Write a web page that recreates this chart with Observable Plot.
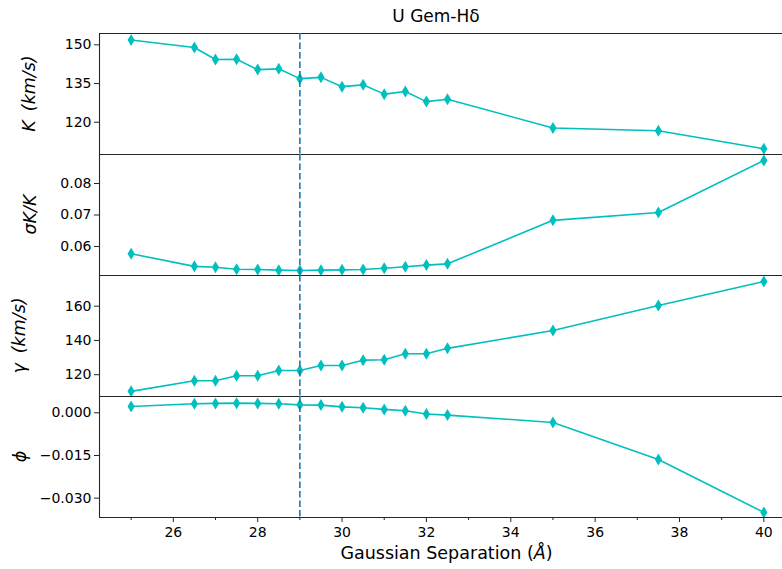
<!DOCTYPE html>
<html><head><meta charset="utf-8">
<script src="https://cdn.jsdelivr.net/npm/d3@7"></script>
<script src="https://cdn.jsdelivr.net/npm/@observablehq/plot@0.6"></script>
<style>
html,body{margin:0;padding:0;background:#fff;overflow:hidden}
#chart{position:relative;width:782px;height:569px;font-family:"DejaVu Sans",sans-serif}
#chart svg{position:absolute;left:0;overflow:visible;background:none}
#labels text{font-family:"DejaVu Sans",sans-serif;fill:#000}
</style></head>
<body><div id="chart"></div>
<script>
// ---- data ----
const separation = [25, 26.5, 27, 27.5, 28, 28.5, 29, 29.5, 30, 30.5, 31, 31.5, 32, 32.5, 35, 37.5, 40];
const K = [151.9, 149.0, 144.3, 144.4, 140.4, 140.7, 136.9, 137.4, 133.8, 134.5, 130.9, 131.9, 128.0, 128.9, 117.8, 116.7, 109.7];
const sigmaKoverK = [0.0577, 0.0537, 0.0534, 0.0528, 0.0527, 0.0525, 0.0524, 0.0525, 0.0526, 0.0527, 0.0531, 0.0536, 0.0541, 0.0545, 0.0683, 0.0708, 0.0873];
const gamma = [110.3, 116.5, 116.5, 119.4, 119.4, 122.5, 122.5, 125.4, 125.4, 128.5, 128.7, 132.2, 132.2, 135.4, 145.8, 160.4, 174.4];
const phi = [0.0022, 0.0032, 0.0033, 0.0034, 0.0033, 0.0032, 0.0028, 0.0027, 0.0021, 0.0018, 0.0012, 0.0007, -0.0004, -0.0008, -0.0034, -0.0164, -0.0350];
const chosenSeparation = [29];
const xMajorTicks = [26, 28, 30, 32, 34, 36, 38, 40];
const xMinorTicks = [25, 27, 29, 31, 33, 35, 37, 39];
const kTicks = [120, 135, 150];
const sigmaTicks = [0.06, 0.07, 0.08];
const gammaTicks = [120, 140, 160];
const phiTicks = [-0.030, -0.015, 0.000];
const titleText = "U Gem-Hδ";

// ---- layout / style ----
const W = 782;
const xDomain = [24.25, 40.442];
const lineColor = "#00bfbf";
const dashColor = "#1f77b4";
const spine = "#262626";

const thinDiamond = {
  draw(ctx, size) {
    const r = Math.sqrt(size / Math.PI);
    const w = r * 0.6;
    ctx.moveTo(0, -r); ctx.lineTo(w, 0); ctx.lineTo(0, r); ctx.lineTo(-w, 0); ctx.closePath();
  }
};

const panels = [
  {values: K, domain: [107.5, 154.4], ticks: kTicks, fmt: d3.format("d"), top: 33},
  {values: sigmaKoverK, domain: [0.0508, 0.0892], ticks: sigmaTicks, fmt: d3.format(".2f"), top: 154},
  {values: gamma, domain: [107.3, 177.9], ticks: gammaTicks, fmt: d3.format("d"), top: 275},
  {values: phi, domain: [-0.0368, 0.00573], ticks: phiTicks, fmt: d3.format(".3f"), top: 396, last: true}
];

const chart = document.getElementById("chart");

// labels overlay
const ns = "http://www.w3.org/2000/svg";
const lab = document.createElementNS(ns, "svg");
lab.setAttribute("id", "labels");
lab.setAttribute("width", W); lab.setAttribute("height", 569);
lab.style.top = "0px";
lab.innerHTML = `
  <text x="436" y="22" text-anchor="middle" font-size="17">${titleText}</text>
  <text transform="translate(35,93.5) rotate(-90)" text-anchor="middle" font-size="17.5" font-style="italic">K<tspan dx="9">(km/s)</tspan></text>
  <text transform="translate(36,214.5) rotate(-90)" text-anchor="middle" font-size="17.5" font-style="italic">σK/K</text>
  <text transform="translate(25,335.5) rotate(-90)" text-anchor="middle" font-size="17.5" font-style="italic">γ<tspan dx="10">(km/s)</tspan></text>
  <text transform="translate(26,456.5) rotate(-90)" text-anchor="middle" font-size="17.5" font-style="italic">ϕ</text>
  <text x="446.5" y="559" text-anchor="middle" font-size="17.5">Gaussian Separation (<tspan font-style="italic">Å</tspan>)</text>
`;
chart.appendChild(lab);

for (const p of panels) {
  const h = 121;
  const mb = p.last ? 52 : 0;
  const marks = [
    Plot.axisY({ticks: p.ticks, tickFormat: p.fmt, tickSize: 5, tickPadding: 3, label: null, stroke: spine, fontSize: 14}),
    Plot.ruleX([xDomain[0]], {stroke: spine, strokeWidth: 1.1}),
    Plot.ruleY([p.domain[1]], {stroke: spine, strokeWidth: 1.1}),
    Plot.line(separation, {x: d => d, y: (d, i) => p.values[i], stroke: lineColor, strokeWidth: 1.6}),
    Plot.dot(separation, {x: d => d, y: (d, i) => p.values[i], symbol: thinDiamond, r: 6, fill: lineColor, stroke: "none"}),
    Plot.ruleX(chosenSeparation, {stroke: dashColor, strokeWidth: 1.6, strokeDasharray: "6.5,3"})
  ];
  if (p.last) {
    marks.push(
      Plot.ruleY([p.domain[0]], {stroke: spine, strokeWidth: 1.1}),
      Plot.axisX({ticks: xMajorTicks, tickFormat: d3.format("d"), tickSize: 5, tickPadding: 5, label: null, stroke: spine, fontSize: 14}),
      Plot.axisX({ticks: xMinorTicks, tickFormat: null, text: null, tickSize: 3, label: null, stroke: spine})
    );
  }
  const svg = Plot.plot({
    width: W,
    height: h + mb,
    marginLeft: 99, marginRight: 0, marginTop: 0, marginBottom: mb,
    x: {domain: xDomain, axis: null},
    y: {domain: p.domain, axis: null},
    style: {fontFamily: "DejaVu Sans", fontSize: "14px", color: "#000", background: "none", overflow: "visible"},
    marks
  });
  svg.style.top = p.top + "px";
  chart.appendChild(svg);
}
</script>
</body></html>
